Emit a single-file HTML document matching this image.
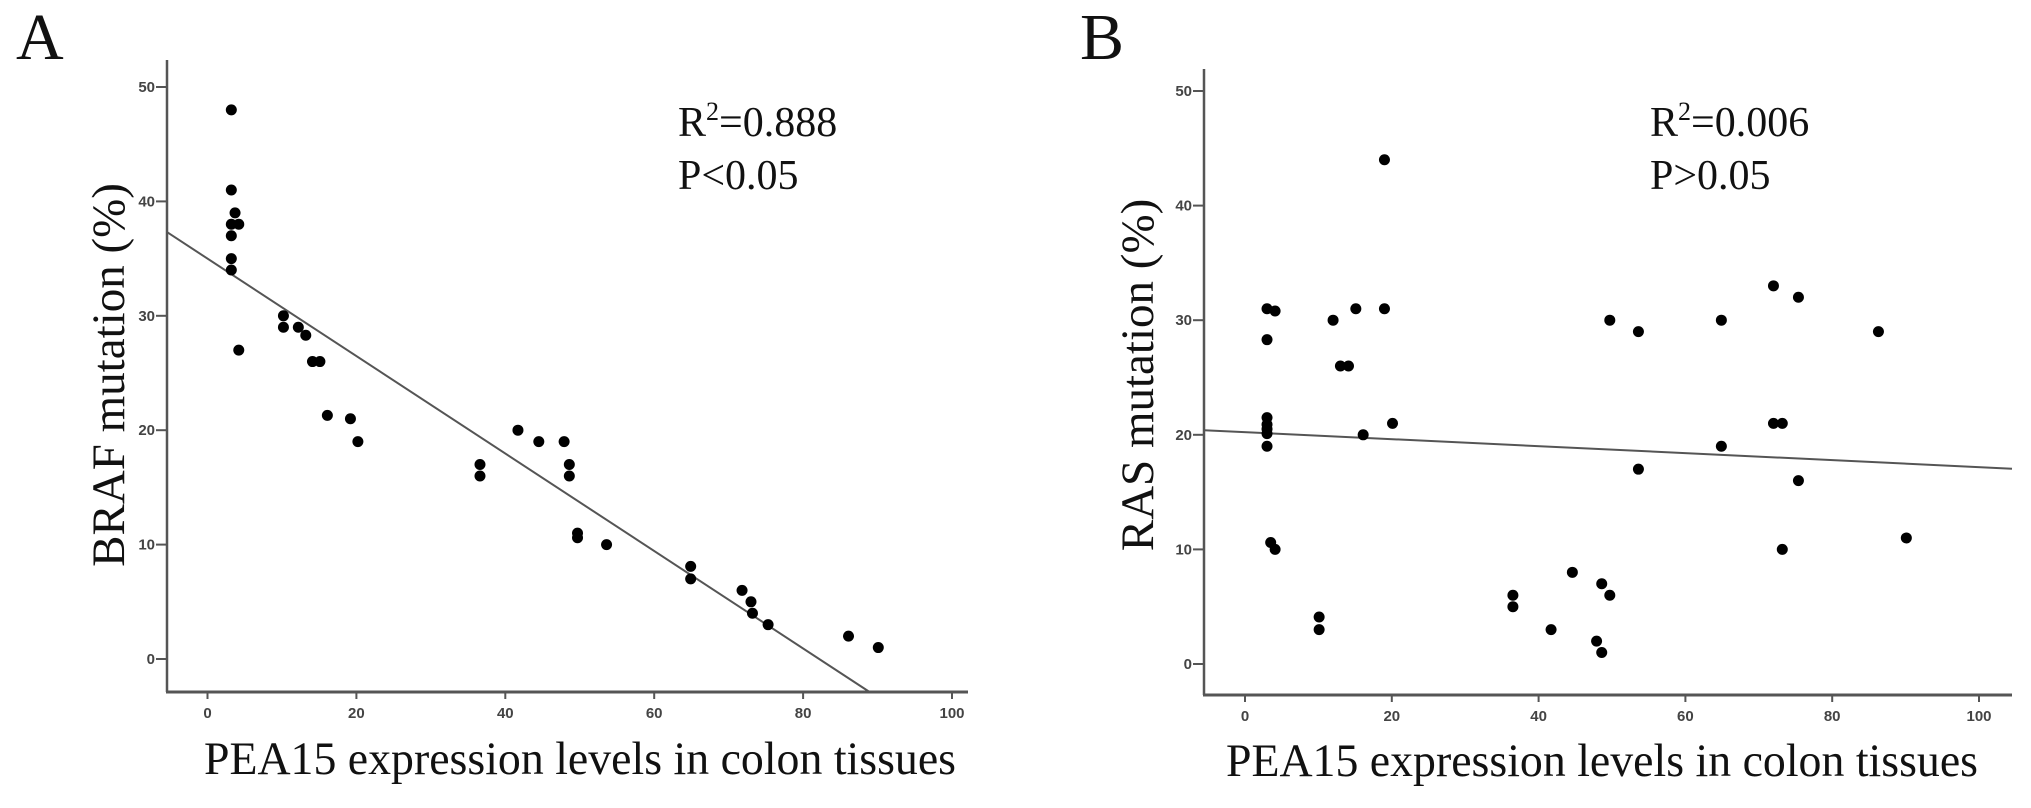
<!DOCTYPE html>
<html><head><meta charset="utf-8"><style>
html,body{margin:0;padding:0;background:#fff;}
svg{display:block;}
.tick{font-family:"Liberation Sans",sans-serif;font-size:15px;fill:#444;font-weight:bold;}
.serif{font-family:"Liberation Serif",serif;fill:#111;}
</style></head><body>
<svg id="fig" width="2031" height="808" viewBox="0 0 2031 808">
<text class="serif" x="16" y="59" font-size="66">A</text>
<text class="serif" x="1080" y="59" font-size="66">B</text>
<g id="pa"></g>
<g id="pb"></g>
</svg>
<script>
const xTicks = [0, 20, 40, 60, 80, 100];
const yTicks = [0, 10, 20, 30, 40, 50];
const braf_x = [3.2,3.2,3.7,3.2,4.2,3.2,3.2,3.2,4.2,10.2,10.2,12.2,13.2,14.1,15.1,16.1,19.2,20.2,36.6,36.6,41.7,44.5,47.9,48.6,48.6,49.7,49.7,53.6,64.9,64.9,71.8,73.0,73.2,75.3,86.1,90.1];
const braf_y = [48,41,39,38,38,37,35,34,27,30,29,29,28.3,26,26,21.3,21,19,17,16,20,19,19,17,16,11,10.6,10,8.1,7,6,5,4,3,2,1];
const braf_fit = [35.0, -0.426];
const ras_x = [3.0,4.1,3.0,3.0,3.0,3.0,3.0,3.0,3.5,4.1,10.1,10.1,12.0,13.0,14.1,15.1,16.1,19.0,19.0,20.1,36.5,36.5,41.7,44.6,47.9,48.6,48.6,49.7,49.7,53.6,53.6,64.9,64.9,72.0,72.0,73.2,73.2,75.4,75.4,86.3,90.1];
const ras_y = [31,30.8,28.3,21.5,20.9,20.5,20.1,19,10.6,10,4.1,3,30,26,26,31,20,44,31,21,6,5,3,8,2,7,1,6,30,29,17,30,19,33,21,21,10,32,16,29,11];
const ras_fit = [20.23, -0.0305];

const NS = 'http://www.w3.org/2000/svg';
function mk(parent, tag, attrs){const e=document.createElementNS(NS,tag);for(const k in attrs)e.setAttribute(k,attrs[k]);parent.appendChild(e);return e;}

function drawPanel(g, cfg, xs, ys, fit, ylab, stat1, stat2, pfx){
  const sx = v => cfg.x0 + (v)*(cfg.x100-cfg.x0)/100;
  const sy = v => cfg.y0 - v*(cfg.y0-cfg.y50)/50;
  const xmin = (cfg.axL - cfg.x0)/((cfg.x100-cfg.x0)/100);
  const xmax = (cfg.axR - cfg.x0)/((cfg.x100-cfg.x0)/100);
  const ymin = (cfg.y0 - cfg.axB)/((cfg.y0-cfg.y50)/50);
  // axes
  let a = mk(g,'line',{x1:cfg.axL,y1:cfg.axT,x2:cfg.axL,y2:cfg.axB,stroke:'#555','stroke-width':2.5});
  
  
  a = mk(g,'line',{x1:cfg.axL-1,y1:cfg.axB,x2:cfg.axR,y2:cfg.axB,stroke:'#555','stroke-width':3});
  
  
  xTicks.forEach(t=>{
    const x=sx(t);
    mk(g,'line',{x1:x,y1:cfg.axB,x2:x,y2:cfg.axB+7,stroke:'#555','stroke-width':2});
    const tx=mk(g,'text',{x:x,y:cfg.axB+26,'text-anchor':'middle',class:'tick'});
    tx.textContent=t;
    
    
  });
  yTicks.forEach(t=>{
    const y=sy(t);
    mk(g,'line',{x1:cfg.axL-11,y1:y,x2:cfg.axL,y2:y,stroke:'#555','stroke-width':2});
    const tx=mk(g,'text',{x:cfg.axL-12,y:y+5,'text-anchor':'end',class:'tick'});
    tx.textContent=t;
    
    
  });
  // fit line clipped to plot area
  let x1=xmin, y1=fit[0]+fit[1]*x1, x2=xmax, y2=fit[0]+fit[1]*x2;
  if(y2<ymin){x2=(ymin-fit[0])/fit[1]; y2=ymin;}
  const fl=mk(g,'line',{x1:sx(x1),y1:sy(y1),x2:sx(x2),y2:sy(y2),stroke:'#555','stroke-width':2});
  
  
  xs.forEach((v,i)=>{
    const c=mk(g,'ellipse',{cx:sx(v),cy:sy(ys[i]),rx:5.5,ry:5.5,fill:'#000'});
    
    
  });
  // labels
  const yl=mk(g,'text',{class:'serif','font-size':47,'text-anchor':'middle',transform:`translate(${cfg.ylx},375) rotate(-90)`});
  yl.textContent=ylab;
  
  
  const xl=mk(g,'text',{class:'serif','font-size':47,x:cfg.xlx,y:cfg.xly,textLength:752,lengthAdjust:'spacingAndGlyphs'});
  xl.textContent='PEA15 expression levels in colon tissues';
  
  
  const s1=mk(g,'text',{class:'serif','font-size':42,x:cfg.sx,y:cfg.sy1});
  s1.innerHTML=stat1;
  
  
  const s2=mk(g,'text',{class:'serif','font-size':42,x:cfg.sx,y:cfg.sy1+53});
  s2.textContent=stat2;
  
  
}
const R2A='R<tspan font-size="26" dy="-16">2</tspan><tspan dy="16">=0.888</tspan>';
const R2B='R<tspan font-size="26" dy="-16">2</tspan><tspan dy="16">=0.006</tspan>';
drawPanel(document.getElementById('pa'),
  {x0:207.5,x100:952,y0:659,y50:87,axL:167,axR:968,axT:60,axB:692,ylx:124,xlx:204,xly:774,sx:678,sy1:136},
  braf_x,braf_y,braf_fit,'BRAF mutation (%)',R2A,'P<0.05','a');
drawPanel(document.getElementById('pb'),
  {x0:1245,x100:1979,y0:664,y50:91,axL:1204,axR:2012,axT:69,axB:695,ylx:1153,xlx:1226,xly:776,sx:1650,sy1:136},
  ras_x,ras_y,ras_fit,'RAS mutation (%)',R2B,'P>0.05','b');
</script>
</body></html>
